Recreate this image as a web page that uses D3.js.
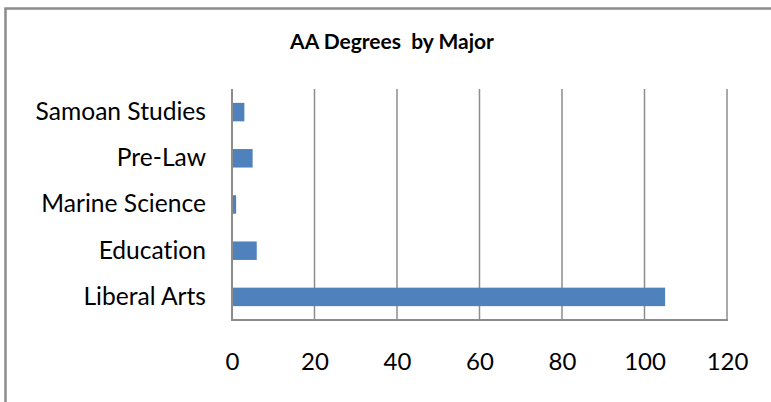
<!DOCTYPE html>
<html>
<head>
<meta charset="utf-8">
<script src="https://cdn.jsdelivr.net/npm/d3@7"></script>
<style>
  html, body { margin: 0; padding: 0; background: #fff; }
  svg { display: block; }
  text { font-variant-ligatures: none; font-feature-settings: "liga" 0; }
</style>
</head>
<body>
<script>
const categories = ["Liberal Arts", "Education", "Marine Science", "Pre-Law", "Samoan Studies"];
const values = [105, 6, 1, 5, 3];
const xTicks = [0, 20, 40, 60, 80, 100, 120];
const title = "AA Degrees  by Major";

const W = 771, H = 402;
const plot = { left: 232, right: 727, top: 89, bottom: 320 };
const font = "Lato, 'Open Sans', sans-serif";

const svg = d3.select("body").append("svg").attr("width", W).attr("height", H);

// outer frame
svg.append("rect").attr("x", 5.5).attr("y", 8.5).attr("width", W + 10).attr("height", H + 10)
  .attr("fill", "#fff").attr("stroke", "#8c8c8c").attr("stroke-width", 2.5);

const x = d3.scaleLinear().domain([0, 120]).range([plot.left, plot.right]);
const y = d3.scaleBand().domain(categories.slice().reverse()).range([plot.top, plot.bottom]).paddingInner(0.6).paddingOuter(0.3);

// gridlines
svg.append("g").selectAll("line").data(xTicks.slice(1)).join("line")
  .attr("x1", d => x(d)).attr("x2", d => x(d))
  .attr("y1", plot.top).attr("y2", plot.bottom)
  .attr("stroke", "#8c8c8c").attr("stroke-width", 1.5);

// bars
svg.append("g").selectAll("rect").data(categories.map((c, i) => ({c, v: values[i]}))).join("rect")
  .attr("x", x(0)).attr("y", d => y(d.c))
  .attr("width", d => x(d.v) - x(0)).attr("height", y.bandwidth())
  .attr("fill", "#4f81bd");

// axes lines
svg.append("line").attr("x1", plot.left).attr("x2", plot.left).attr("y1", plot.top).attr("y2", plot.bottom)
  .attr("stroke", "#8c8c8c").attr("stroke-width", 2);
svg.append("line").attr("x1", plot.left - 1).attr("x2", plot.right + 1).attr("y1", plot.bottom).attr("y2", plot.bottom)
  .attr("stroke", "#8c8c8c").attr("stroke-width", 2);

// x axis labels
const xAxis = d3.axisBottom(x).tickValues(xTicks).tickSize(0).tickPadding(0);
const gx = svg.append("g").attr("transform", `translate(0,${plot.bottom})`).call(xAxis);
gx.select(".domain").remove();
gx.selectAll("text").attr("font-family", font).attr("font-size", 24).attr("fill", "#000")
  .attr("dy", null).attr("y", 44).attr("dominant-baseline", "middle");

// y axis labels
const yAxis = d3.axisLeft(y).tickSize(0).tickPadding(26);
const gy = svg.append("g").attr("transform", `translate(${plot.left},0)`).call(yAxis);
gy.select(".domain").remove();
gy.selectAll("text").attr("font-family", font).attr("font-size", 24.6).attr("fill", "#000");

// title
svg.append("text").attr("x", 392).attr("y", 44).attr("text-anchor", "middle").attr("dominant-baseline", "middle")
  .style("white-space", "pre")
  .attr("font-family", font).attr("font-weight", "bold").attr("font-size", 21).text(title);
</script>
</body>
</html>
